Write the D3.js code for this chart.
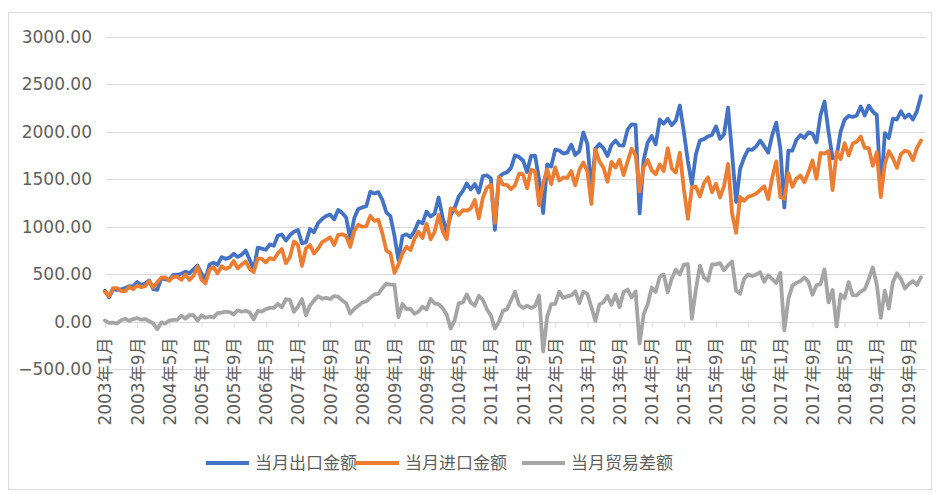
<!DOCTYPE html>
<html>
<head>
<meta charset="utf-8">
<script src="https://cdn.jsdelivr.net/npm/d3@7"></script>
<style>
  body { margin: 0; background: #fff; }
  svg text { font-family: "DejaVu Sans", "Noto Sans CJK SC", sans-serif; fill: #5f5f5f; }
</style>
</head>
<body>
<div id="chart"></div>
<script>
// months 2003-01 .. 2019-12
var years = d3.range(2003, 2020);
var months = [];
years.forEach(function(y) {
    for (var m = 1; m <= 12; m++) months.push(y + "年" + m + "月");
});

var xTickLabels = ["2003年1月","2003年9月","2004年5月","2005年1月","2005年9月","2006年5月",
    "2007年1月","2007年9月","2008年5月","2009年1月","2009年9月","2010年5月","2011年1月",
    "2011年9月","2012年5月","2013年1月","2013年9月","2014年5月","2015年1月","2015年9月",
    "2016年5月","2017年1月","2017年9月","2018年5月","2019年1月","2019年9月"];

var yTicks = [-500, 0, 500, 1000, 1500, 2000, 2500, 3000];

// 当月出口金额
var exports = [
    326,256,343,336,339,354,374,370,418,384,401,433,
    342,335,457,446,443,493,494,505,527,510,550,591,
    507,446,601,622,598,680,662,674,715,682,705,749,
    651,547,780,769,757,814,800,907,918,854,910,948,
    966,825,838,976,942,1036,1080,1113,1128,1077,1177,1145,
    1096,873,1089,1187,1203,1216,1367,1349,1364,1283,1149,1112,
    905,649,903,920,888,954,1054,1037,1159,1107,1137,1307,
    1095,945,1121,1199,1318,1374,1455,1392,1450,1359,1533,1541,
    1507,968,1522,1557,1572,1619,1751,1733,1697,1575,1745,1747,
    1499,1144,1657,1633,1811,1802,1770,1780,1863,1755,1794,1992,
    1873,1393,1821,1871,1827,1743,1860,1907,1856,1854,2022,2077,
    2071,1140,1701,1886,1955,1867,2129,2084,2137,2068,2117,2275,
    2000,1691,1446,1763,1908,1922,1950,1966,2056,1924,1972,2253,
    1774,1261,1608,1727,1813,1810,1846,1906,1845,1780,1966,2095,
    1826,1202,1801,1800,1914,1966,1934,1993,1981,1888,2174,2318,
    2000,1719,1739,2000,2127,2167,2155,2171,2266,2171,2274,2212,
    2176,1353,1986,1934,2138,2128,2215,2148,2182,2129,2217,2375
];

// 当月进口金额
var imports = [
    314,268,353,354,323,322,366,342,380,363,373,428,
    360,415,464,466,431,473,474,441,497,440,481,580,
    442,404,548,576,508,584,557,574,639,562,600,634,
    555,523,667,662,625,669,654,719,765,616,680,844,
    807,587,770,807,717,767,837,862,889,807,914,920,
    901,787,955,1020,1000,1003,1114,1061,1071,930,748,722,
    514,601,717,788,754,872,948,880,1030,867,946,1123,
    953,869,1193,1182,1123,1174,1168,1192,1281,1087,1304,1410,
    1442,1041,1521,1443,1441,1396,1436,1555,1552,1405,1600,1582,
    1226,1459,1604,1449,1624,1485,1519,1514,1586,1435,1598,1676,
    1581,1240,1812,1689,1623,1472,1682,1622,1704,1543,1684,1821,
    1753,1370,1624,1702,1596,1553,1656,1586,1827,1614,1570,1778,
    1400,1084,1415,1422,1318,1457,1520,1362,1452,1308,1430,1660,
    1141,935,1313,1272,1315,1329,1348,1386,1425,1290,1519,1688,
    1312,1293,1563,1420,1505,1539,1468,1573,1697,1505,1777,1769,
    1797,1385,1789,1713,1878,1751,1875,1893,1949,1831,1828,1641,
    1784,1312,1660,1796,1721,1619,1763,1799,1786,1701,1830,1907
];

// 当月贸易差额
var balance = [
    12,-12,-10,-18,16,32,8,28,38,21,28,5,
    -18,-80,-7,-20,12,20,20,64,30,70,69,11,
    65,42,53,46,90,96,105,100,76,120,105,115,
    96,24,113,107,132,145,146,188,153,238,230,104,
    159,238,68,169,225,269,243,251,239,270,263,225,
    195,86,134,167,203,213,253,288,293,353,401,390,
    391,48,186,132,134,82,106,157,129,240,191,184,
    142,76,-72,17,195,200,287,200,169,272,229,131,
    65,-73,1,114,131,223,315,178,145,170,145,165,
    273,-315,53,184,187,317,251,266,277,320,196,316,
    292,153,9,182,204,271,178,285,152,311,338,256,
    318,-230,77,184,359,314,473,498,310,454,547,497,
    600,607,31,341,590,465,430,604,604,616,542,593,
    633,326,295,455,498,481,498,520,420,490,447,407,
    514,-91,238,380,409,427,466,420,284,383,397,549,
    203,334,-50,287,249,416,280,278,317,340,446,571,
    392,41,326,138,417,509,452,349,396,428,387,468
];

var seriesNames = ["当月出口金额", "当月进口金额", "当月贸易差额"];
var seriesColors = ["#4472C4", "#ED7D31", "#A5A5A5"];
var seriesData = [exports, imports, balance];

var W = 941, H = 495;

var svg = d3.select("#chart").append("svg")
    .attr("width", W)
    .attr("height", H);

// chart border
svg.append("rect")
    .attr("x", 8.5).attr("y", 12.5)
    .attr("width", 923).attr("height", 477)
    .attr("fill", "#fff")
    .attr("stroke", "#d9d9d9");

var xScale = d3.scalePoint()
    .domain(months)
    .range([105, 921]);

var yScale = d3.scaleLinear()
    .domain([-500, 3000])
    .range([369.2, 36.7]);

var plotLeft = 106, plotRight = 926;

// gridlines
svg.append("g")
    .selectAll("line")
    .data(yTicks)
    .enter().append("line")
    .attr("x1", plotLeft).attr("x2", plotRight)
    .attr("y1", function(d) { return Math.round(yScale(d)) + 0.5; })
    .attr("y2", function(d) { return Math.round(yScale(d)) + 0.5; })
    .attr("stroke", "#d9d9d9")
    .attr("stroke-width", 1);

// y labels
var yAxis = d3.axisLeft(yScale)
    .tickValues(yTicks)
    .tickSize(0)
    .tickPadding(0)
    .tickFormat(d3.format(".2f"));

var gY = svg.append("g")
    .attr("transform", "translate(92,0)")
    .call(yAxis);
gY.select(".domain").remove();
gY.selectAll("text")
    .attr("font-size", "17px")
    .style("font-family", "'DejaVu Sans', sans-serif")
    .attr("fill", "#5f5f5f");

// x axis at zero
var xAxis = d3.axisBottom(xScale)
    .tickValues(xTickLabels)
    .tickSize(5)
    .tickSizeOuter(0);

var gX = svg.append("g")
    .attr("transform", "translate(0," + (Math.round(yScale(0)) + 0.5) + ")")
    .call(xAxis);
gX.select(".domain")
    .attr("d", "M" + plotLeft + ",0H" + plotRight)
    .attr("stroke", "#d9d9d9");
gX.selectAll(".tick line").attr("stroke", "#d9d9d9");
gX.selectAll("text")
    .attr("font-size", "17px")
    .attr("fill", "#5f5f5f")
    .attr("y", 0).attr("dy", "0.35em")
    .attr("transform", "translate(0,15) rotate(-90)")
    .style("text-anchor", "end");

// lines
var line = d3.line()
    .x(function(d, i) { return xScale(months[i]); })
    .y(function(d) { return yScale(d); });

seriesData.forEach(function(vals, k) {
    svg.append("path")
        .datum(vals)
        .attr("fill", "none")
        .attr("stroke", seriesColors[k])
        .attr("stroke-width", 3.8)
        .attr("stroke-linejoin", "round")
        .attr("stroke-linecap", "round")
        .attr("d", line);
});

// legend
var legendX = [206, 356, 522];
var legend = svg.append("g");
seriesNames.forEach(function(name, k) {
    legend.append("line")
        .attr("x1", legendX[k]).attr("x2", legendX[k] + 43)
        .attr("y1", 463).attr("y2", 463)
        .attr("stroke", seriesColors[k])
        .attr("stroke-width", 3.8);
    legend.append("text")
        .attr("x", legendX[k] + 49)
        .attr("y", 463)
        .attr("dy", "0.35em")
        .attr("font-size", "17px")
        .style("font-family", "'Noto Sans CJK SC', sans-serif")
        .attr("fill", "#5f5f5f")
        .text(name);
});
</script>
</body>
</html>
